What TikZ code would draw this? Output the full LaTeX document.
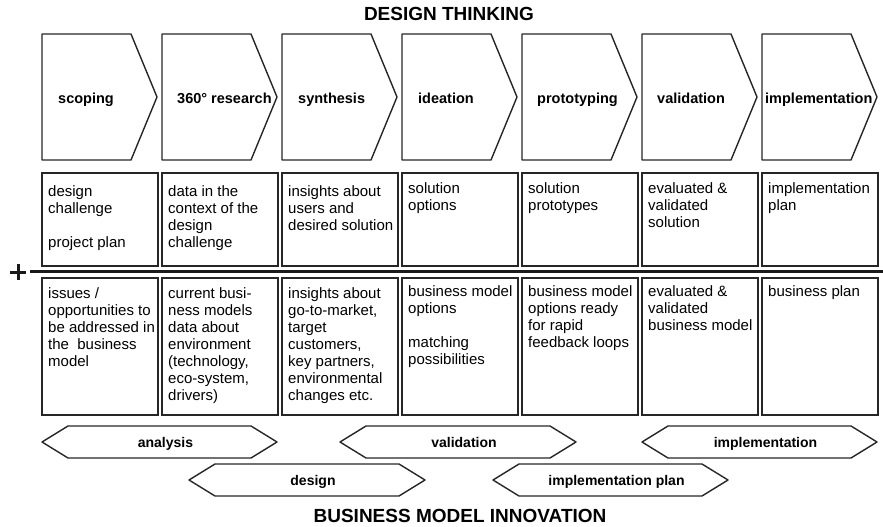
\documentclass[tikz,border=0pt]{standalone}
\usepackage{fontspec}
\setmainfont{Liberation Sans}
\begin{document}
\begin{tikzpicture}[x=1pt,y=-1pt,
  outline/.style={draw=black!85,line width=1.4pt,line join=round},
  cell/.style={draw=black!85,line width=1.6pt},
  celltext/.style={anchor=north west,inner sep=0pt,align=left,
    font=\fontsize{15}{17}\selectfont},
  steplabel/.style={anchor=base west,inner sep=0pt,
    font=\fontsize{14.5}{17}\selectfont\bfseries},
  phaselabel/.style={anchor=base,inner sep=0pt,
    font=\fontsize{14}{17}\selectfont\bfseries},
  heading/.style={anchor=base,inner sep=0pt,
    font=\fontsize{19}{22}\selectfont\bfseries}]

\useasboundingbox (0,0) rectangle (883,527);

% headings
\node[heading] (dt) at (449,21) {DESIGN THINKING};
\node[heading] (bmi) at (460,522) {BUSINESS MODEL INNOVATION};

% process steps as chevrons, with the two rows of cells below each
\foreach \i/\t/\o in {0/scoping/16,1/360° research/15,2/synthesis/16,3/ideation/16,
                      4/prototyping/15,5/validation/15,6/implementation/3}{
  \pgfmathsetmacro{\L}{42+120*\i}
  \draw[outline] (\L,34) -- ({\L+89},34) -- ({\L+115},97)
                 -- ({\L+89},160) -- (\L,160) -- cycle;
  \node[steplabel] (step\i) at ({\L+\o},103) {\t};
  \draw[cell] (\L,173) rectangle ({\L+116},266);
  \draw[cell] (\L,278) rectangle ({\L+116},415);
}

% design thinking outcomes
\node[celltext] (dt0) at (48,185) {design\\challenge\\[17pt]project plan};
\node[celltext] (dt1) at (168,185) {data in the\\context of the\\design\\challenge};
\node[celltext] (dt2) at (288,185) {insights about\\users and\\desired solution};
\node[celltext] (dt3) at (408,182) {solution\\options};
\node[celltext] (dt4) at (528,182) {solution\\prototypes};
\node[celltext] (dt5) at (648,182) {evaluated \&\\validated\\solution};
\node[celltext] (dt6) at (768,182) {implementation\\plan};

% separator between the two rows
\draw[line width=3pt,black!90] (30,271) -- (883,271);
\draw[line width=3pt,black!90] (10,272) -- (26,272) (18,264) -- (18,280);

% business model innovation outcomes
\node[celltext] (bm0) at (48,287) {issues /\\opportunities to\\be addressed in\\the\ \ business\\model};
\node[celltext] (bm1) at (168,287) {current busi-\\ness models\\data about\\environment\\(technology,\\eco-system,\\drivers)};
\node[celltext] (bm2) at (288,287) {insights about\\go-to-market,\\target\\customers,\\key partners,\\environmental\\changes etc.};
\node[celltext] (bm3) at (408,285) {business model\\options\\[17pt]matching\\possibilities};
\node[celltext] (bm4) at (528,285) {business model\\options ready\\for rapid\\feedback loops};
\node[celltext] (bm5) at (648,285) {evaluated \&\\validated\\business model};
\node[celltext] (bm6) at (768,285) {business plan};

% phases as double-pointed hexagons
\foreach \l/\r/\y/\t/\n in {42/277/442/analysis/ph1,
                           340/576/442/validation/ph2,
                           642/877/442/implementation/ph3,
                           189/425/480/design/ph4,
                           493/728/480/implementation plan/ph5}{
  \draw[outline] (\l,\y) -- ({\l+26},{\y-16}) -- ({\r-26},{\y-16})
                 -- (\r,\y) -- ({\r-26},{\y+16}) -- ({\l+26},{\y+16}) -- cycle;
  \node[phaselabel] (\n) at ({(\l+\r)/2+6},{\y+5}) {\t};
}
\end{tikzpicture}
\end{document}
